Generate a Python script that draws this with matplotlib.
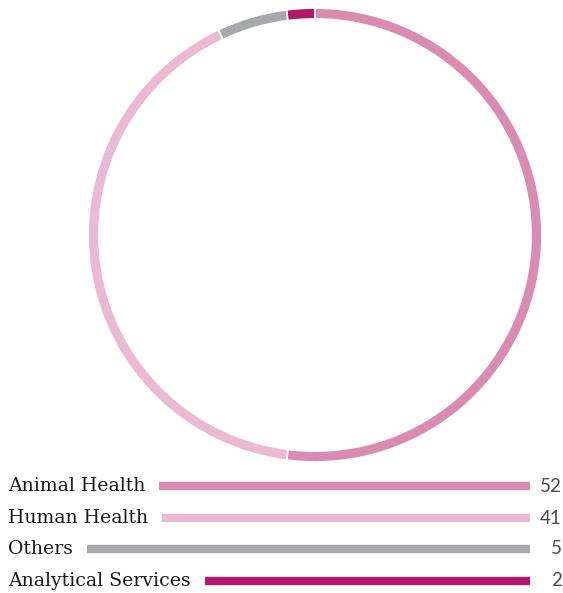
import numpy as np
import matplotlib
matplotlib.use("Agg")
import matplotlib.pyplot as plt

# segment data, clockwise from the top
segments = ["Animal Health", "Human Health", "Others", "Analytical Services"]
shares = [52, 41, 5, 2]
colors = ["#da8bb2", "#ebb9d2", "#a8a9ad", "#b5186b"]

W, H = 563, 593
fig = plt.figure(figsize=(W / 100, H / 100), dpi=100)

# ring
cx, cy, r = 315, 235, 227
ax = fig.add_axes([(cx - r) / W, (H - cy - r) / H, 2 * r / W, 2 * r / H])
ax.pie(shares, colors=colors, startangle=90, counterclock=False, radius=1,
       wedgeprops=dict(width=11 / r, edgecolor="white", linewidth=1.3))
ax.set_aspect("equal")
ax.set_xlim(-1.0, 1.0)
ax.set_ylim(-1.0, 1.0)
ax.axis("off")

# legend rows below the ring (data coords = pixels, y down)
lax = fig.add_axes([0, 0, 1, 1])
lax.set_xlim(0, W)
lax.set_ylim(H, 0)
lax.axis("off")

row_y = [486, 518, 549, 581]
bar_end = 530
fig.canvas.draw()
rend = fig.canvas.get_renderer()
inv = lax.transData.inverted()
for name, val, col, y in zip(segments, shares, colors, row_y):
    t = lax.text(8, y, name, fontsize=13.6, family="DejaVu Serif",
                 color="#1a1a1a", va="center", ha="left")
    bb = t.get_window_extent(renderer=rend)
    x0 = inv.transform((bb.x1, 0))[0] + 14
    lax.hlines(y, x0, bar_end, color=col, lw=6)
    lax.text(562, y, str(val), fontsize=13.5, family="Lato",
             color="#4a4a4a", va="center", ha="right")

fig.savefig("out.png", dpi=100)
